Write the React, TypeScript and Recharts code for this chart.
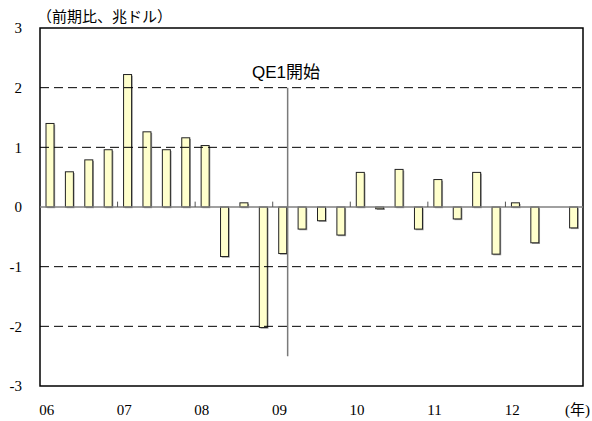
import React from 'react';
import { ComposedChart, Bar, XAxis, YAxis, ReferenceLine, ReferenceArea } from 'recharts';

const quarters = [
  '06Q1', '06Q2', '06Q3', '06Q4',
  '07Q1', '07Q2', '07Q3', '07Q4',
  '08Q1', '08Q2', '08Q3', '08Q4',
  '09Q1', '09Q2', '09Q3', '09Q4',
  '10Q1', '10Q2', '10Q3', '10Q4',
  '11Q1', '11Q2', '11Q3', '11Q4',
  '12Q1', '12Q2', '12Q3', '12Q4',
];
const values: (number | null)[] = [
  1.4, 0.59, 0.79, 0.96,
  2.22, 1.26, 0.96, 1.16,
  1.03, -0.83, 0.07, -2.02,
  -0.78, -0.37, -0.23, -0.47,
  0.58, -0.03, 0.63, -0.37,
  0.46, -0.2, 0.58, -0.79,
  0.07, -0.6, null, -0.35,
];
const yearTicks = ['06Q1', '07Q1', '08Q1', '09Q1', '10Q1', '11Q1', '12Q1'];
const yearBoundaries = ['07Q1', '08Q1', '09Q1', '10Q1', '11Q1', '12Q1'];
const yTicks = [-3, -2, -1, 0, 1, 2, 3];
const gridLevels = [-2, -1, 1, 2];
// QE1 start, in quarter-index units (12 = 2009Q1)
const qe1Position = 12.27;
const qe1Range = { top: 2, bottom: -2.5 };

const data = quarters.map((q, i) => ({ q, idx: i, v: values[i] }));

const ShadowBar = (props: any) => {
  const { x, y, width, height } = props;
  if (x == null || y == null || !width || height == null) return null;
  const top = Math.min(y, y + height);
  const h = Math.abs(height);
  return (
    <g>
      <rect x={x + 1.2} y={top + 1.2} width={width} height={h} fill="#a0a0a0" />
      <rect x={x} y={top} width={width} height={h} fill="#FFFFCC" stroke="#222" strokeWidth={1} />
    </g>
  );
};

const serif = '"Liberation Serif", "Times New Roman", serif';

export default function App() {
  return (
    <div style={{ position: 'absolute', left: 0, top: 0, width: 592, height: 421, background: '#fff', fontFamily: serif }}>
      <ComposedChart
        width={592}
        height={421}
        data={data}
        margin={{ top: 28, right: 9, left: 0, bottom: 0 }}
      >
        <XAxis
          dataKey="q"
          ticks={yearTicks}
          interval={0}
          tickFormatter={(q: string) => q.slice(0, 2)}
          axisLine={false}
          tickLine={false}
          height={35}
          tickMargin={12}
          dx={-3}
          tick={{ fontSize: 15, fill: '#000' }}
        />
        <XAxis
          xAxisId="idx"
          dataKey="idx"
          type="number"
          domain={[-0.5, quarters.length - 0.5]}
          allowDataOverflow
          hide
        />
        <YAxis
          domain={[-3, 3]}
          ticks={yTicks}
          interval={0}
          width={40}
          axisLine={false}
          tickLine={false}
          tickMargin={12}
          tick={{ fontSize: 15, fill: '#000' }}
        />
        {gridLevels.map((g) => (
          <ReferenceLine key={g} y={g} stroke="#000" strokeDasharray="9 5" strokeWidth={1} />
        ))}
        <ReferenceLine y={0} stroke="#808080" strokeWidth={1.5} />
        {yearBoundaries.map((b) => (
          <ReferenceLine
            key={b}
            position="start"
            segment={[{ x: b, y: 0 }, { x: b, y: 0.09 }]}
            stroke="#555"
            strokeWidth={1}
          />
        ))}
        <Bar dataKey="v" barSize={8} shape={<ShadowBar />} isAnimationActive={false} />
        <ReferenceLine
          xAxisId="idx"
          segment={[{ x: qe1Position, y: qe1Range.top }, { x: qe1Position, y: qe1Range.bottom }]}
          stroke="#7a7a7a"
          strokeWidth={1.5}
        />
        <ReferenceArea
          xAxisId="idx"
          x1={-0.5}
          x2={quarters.length - 0.5}
          y1={-3}
          y2={3}
          fill="none"
          fillOpacity={0}
          stroke="#000"
          strokeWidth={1.5}
          ifOverflow="visible"
        />
      </ComposedChart>
      <div
        style={{
          position: 'absolute', left: 37, top: 8, fontSize: 15, lineHeight: '16px',
          fontFamily: '"Noto Sans CJK JP", sans-serif', color: '#000', whiteSpace: 'nowrap',
        }}
      >
        （前期比、兆ドル）
      </div>
      <div
        style={{
          position: 'absolute', left: 252, top: 64, fontSize: 17, lineHeight: '17px',
          fontFamily: '"Liberation Sans", "Noto Sans CJK JP", sans-serif', color: '#000', whiteSpace: 'nowrap',
        }}
      >
        QE1開始
      </div>
      <div
        style={{
          position: 'absolute', left: 565, top: 402, fontSize: 15, lineHeight: '16px',
          fontFamily: '"Liberation Serif", "Noto Sans CJK JP", serif', color: '#000', whiteSpace: 'nowrap',
        }}
      >
        (年)
      </div>
    </div>
  );
}
